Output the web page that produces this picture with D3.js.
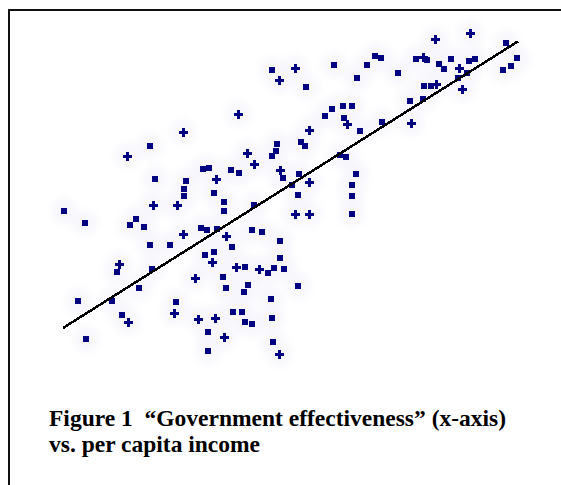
<!DOCTYPE html>
<html>
<head>
<meta charset="utf-8">
<script src="https://cdn.jsdelivr.net/npm/d3@7"></script>
<style>
  html, body { margin: 0; padding: 0; background: #fff; }
  svg { display: block; }
</style>
</head>
<body>
<script>
// Countries plotted with a square marker: government effectiveness vs. log per capita income
const squareGov = [-1.40,-0.87,-0.81,-1.35,-1.04,-1.06,-1.06,0.44,0.77,-0.18,0.67,0.16,0.42,0.53,0.62,0.35,0.54,0.70,0.11,0.15,
  -0.13,-0.14,-0.18,-0.59,-0.51,-0.07,0.09,0.02,0.08,0.50,0.56,0.66,0.62,0.62,0.62,2.16,0.85,0.91,1.26,1.37,
  1.61,1.49,1.54,1.79,1.85,2.27,2.13,2.21,1.08,1.77,1.68,1.34,1.41,1.20,1.33,0.92,-2.26,-2.05,-1.54,-1.60,
  -1.46,-0.89,-0.83,-1.40,-1.20,-0.85,-0.76,-1.73,-1.38,-0.76,-0.66,-0.66,-0.36,-0.73,-0.38,-0.28,-0.10,-0.58,-0.10,-0.45,
  -0.22,-0.16,-0.06,-1.51,-2.12,-1.78,-1.14,-1.68,-0.82,-2.04,-0.82,-0.67,-0.64,-0.42,-0.46,0.08,-0.19,-0.57,-0.48,-0.45,
  -0.38,-0.18,-0.17];
const squareIncome = [9.48,9.02,9.04,8.82,8.78,8.62,8.48,11.10,11.10,11.00,10.84,10.66,10.22,10.28,10.28,10.08,10.04,9.78,9.56,9.48,
  9.52,9.38,9.28,9.00,8.94,8.84,8.92,8.70,8.50,9.30,9.26,8.92,8.70,8.48,8.12,11.54,11.28,11.24,11.22,11.20,
  11.22,11.12,11.02,11.18,11.22,11.24,11.00,11.08,10.94,10.94,10.84,10.68,10.68,10.38,10.42,9.96,8.18,7.94,8.02,7.90,
  7.86,7.84,7.80,7.50,7.50,7.30,7.36,6.96,7.02,8.54,8.36,8.18,8.30,7.82,7.80,7.76,7.58,7.46,7.24,7.06,
  6.94,7.04,7.02,6.64,6.38,6.38,6.36,6.10,5.76,5.62,5.38,6.86,6.64,6.70,6.56,6.68,6.42,6.16,6.16,5.96,
  5.92,6.04,5.56];

// Countries plotted with a cross marker
const crossGov = [-1.07,-1.63,0.05,-0.11,0.57,-0.52,0.19,-0.43,-0.36,-0.74,-0.10,0.19,1.80,1.45,1.33,1.69,1.46,1.72,1.21,
  -1.37,-1.13,-1.07,-0.78,-1.71,-0.95,0.05,0.19,-0.64,-0.54,-0.31,-1.16,-1.62,-0.92,-0.75,-0.66,-0.11];
const crossIncome = [9.76,9.28,11.04,10.80,9.92,10.12,9.80,9.34,9.12,8.82,9.00,8.76,11.74,11.62,11.26,11.04,10.72,10.62,9.94,
  8.30,8.30,7.72,7.16,7.12,6.84,8.12,8.12,7.68,7.06,7.02,6.14,5.96,6.02,6.04,5.66,5.32];

// Least-squares fit line
const fitIntercept = 8.70;
const fitSlope = 1.26;
const fitRange = [-2.27, 2.28];

const captionLines = ["Figure 1\u00A0\u00A0\u201CGovernment effectiveness\u201D (x-axis)", "vs. per capita income"];

const W = 561, H = 485;
const svg = d3.select("body").append("svg").attr("width", W).attr("height", H);

const x = d3.scaleLinear().domain([-2.5, 2.5]).range([40, 540]);
const y = d3.scaleLinear().domain([5, 12]).range([370, 20]);

// soft haze behind the markers
const defs = svg.append("defs");
defs.append("filter").attr("id", "haze").attr("x", "-20%").attr("y", "-20%").attr("width", "140%").attr("height", "140%")
  .append("feGaussianBlur").attr("stdDeviation", 4);

// frame (top and left rules)
svg.append("line").attr("x1", 8).attr("x2", W).attr("y1", 10).attr("y2", 10)
  .attr("stroke", "#111").attr("stroke-width", 2);
svg.append("line").attr("x1", 9).attr("x2", 9).attr("y1", 9).attr("y2", H)
  .attr("stroke", "#111").attr("stroke-width", 2);

const squares = squareGov.map((g, i) => ({ g, inc: squareIncome[i] }));
const crosses = crossGov.map((g, i) => ({ g, inc: crossIncome[i] }));
const all = squares.concat(crosses);

svg.append("g").attr("filter", "url(#haze)").selectAll("circle").data(all).join("circle")
  .attr("cx", d => x(d.g)).attr("cy", d => y(d.inc)).attr("r", 12)
  .attr("fill", "#f6f6fc");

const markerColor = "#000080";
const squareSym = d3.symbol().type(d3.symbolSquare).size(40);
const crossSym = d3.symbol().type(d3.symbolCross).size(45);

svg.append("g").attr("shape-rendering", "crispEdges").selectAll("path").data(squares).join("path")
  .attr("transform", d => `translate(${Math.round(x(d.g))},${Math.round(y(d.inc))})`)
  .attr("d", squareSym).attr("fill", markerColor);

svg.append("g").attr("shape-rendering", "crispEdges").selectAll("path").data(crosses).join("path")
  .attr("transform", d => `translate(${Math.round(x(d.g))},${Math.round(y(d.inc))})`)
  .attr("d", crossSym).attr("fill", markerColor);

// regression line
const line = d3.line().x(d => x(d)).y(d => y(fitIntercept + fitSlope * d));
svg.append("path").datum(fitRange).attr("d", line)
  .attr("fill", "none").attr("stroke", "#000").attr("stroke-width", 2.5)
  .attr("shape-rendering", "crispEdges");

// caption
svg.append("g").selectAll("text").data(captionLines).join("text")
  .attr("x", 49).attr("y", (d, i) => 426 + i * 26)
  .attr("font-family", "'Liberation Serif', 'Times New Roman', serif")
  .attr("font-weight", "bold").attr("font-size", 23.5).attr("fill", "#000")
  .text(d => d);
</script>
</body>
</html>
